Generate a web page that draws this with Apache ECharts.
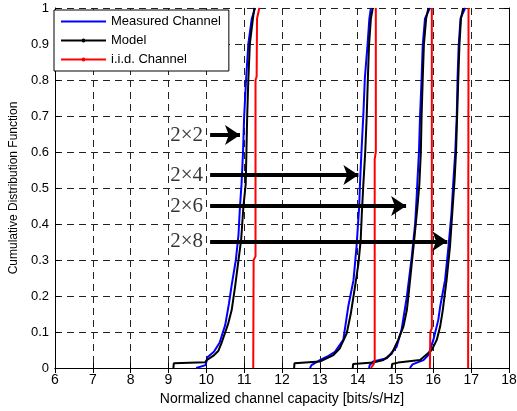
<!DOCTYPE html>
<html><head><meta charset="utf-8">
<script src="https://cdn.jsdelivr.net/npm/echarts@6/dist/echarts.min.js"></script>
<style>html,body{margin:0;padding:0;background:#fff}#c{width:517px;height:411px}</style>
</head><body><div id="c"></div>
<script>
// Measured channel (blue)
const measured2x2 = [[9.73,0],[9.98,0.008],[10.02,0.012],[10.03,0.03],[10.2,0.045],[10.35,0.07],[10.5,0.12],[10.6,0.18],[10.67,0.23],[10.78,0.3],[10.85,0.37],[10.89,0.45],[10.93,0.51],[10.97,0.6],[11.0,0.7],[11.05,0.8],[11.11,0.9],[11.2,0.97],[11.29,1]];
const measured2x4 = [[12.74,0],[12.78,0.008],[13.0,0.022],[13.2,0.032],[13.4,0.045],[13.62,0.078],[13.75,0.17],[13.89,0.244],[13.97,0.337],[14.04,0.448],[14.06,0.508],[14.1,0.6],[14.15,0.703],[14.19,0.805],[14.26,0.897],[14.31,0.971],[14.35,1]];
const measured2x6 = [[14.3,0],[14.32,0.008],[14.41,0.018],[14.77,0.027],[15.03,0.059],[15.16,0.106],[15.3,0.198],[15.43,0.309],[15.52,0.402],[15.56,0.476],[15.58,0.52],[15.62,0.6],[15.65,0.703],[15.69,0.805],[15.72,0.897],[15.78,0.971],[15.91,1]];
const measured2x8 = [[15.38,0],[15.45,0.01],[15.74,0.022],[15.87,0.036],[16.0,0.078],[16.13,0.133],[16.18,0.17],[16.31,0.244],[16.4,0.337],[16.48,0.43],[16.53,0.52],[16.58,0.6],[16.62,0.703],[16.64,0.805],[16.67,0.897],[16.72,0.971],[16.84,1]];
// Model (black)
const model2x2 = [[9.13,0],[9.14,0.013],[9.97,0.016],[10.01,0.022],[10.2,0.035],[10.32,0.048],[10.4,0.069],[10.58,0.124],[10.67,0.161],[10.76,0.226],[10.85,0.3],[10.92,0.356],[10.98,0.448],[11.04,0.51],[11.06,0.6],[11.08,0.7],[11.11,0.8],[11.15,0.9],[11.23,0.97],[11.27,1]];
const model2x4 = [[12.32,0],[12.33,0.013],[13.0,0.018],[13.36,0.036],[13.53,0.055],[13.71,0.096],[13.82,0.152],[13.93,0.226],[14.02,0.29],[14.08,0.356],[14.11,0.43],[14.15,0.51],[14.2,0.6],[14.24,0.703],[14.27,0.805],[14.3,0.897],[14.35,0.971],[14.4,1]];
const model2x6 = [[13.87,0],[13.88,0.011],[14.41,0.015],[14.68,0.022],[14.9,0.04],[15.07,0.078],[15.21,0.115],[15.3,0.161],[15.34,0.198],[15.43,0.29],[15.52,0.383],[15.58,0.448],[15.63,0.51],[15.67,0.6],[15.69,0.703],[15.72,0.805],[15.75,0.897],[15.81,0.971],[15.87,1]];
const model2x8 = [[14.9,0],[14.91,0.011],[15.07,0.015],[15.65,0.022],[15.96,0.05],[16.09,0.078],[16.18,0.115],[16.25,0.161],[16.35,0.244],[16.44,0.337],[16.5,0.43],[16.56,0.52],[16.6,0.6],[16.63,0.703],[16.66,0.805],[16.69,0.897],[16.73,0.971],[16.79,1]];
// i.i.d. channel (red)
const iid2x2 = [[11.24,0],[11.25,0.3],[11.3,0.31],[11.3,0.8],[11.33,0.81],[11.34,0.97],[11.4,1]];
const iid2x4 = [[14.35,0],[14.42,0.01],[14.45,0.02],[14.45,0.58],[14.48,0.6],[14.48,1]];
const iid2x6 = [[15.91,0],[15.92,0.1],[15.96,0.11],[15.96,1]];
const iid2x8 = [[16.92,0],[16.93,1]];
// Annotations
const annLabels = ['2\u00d72','2\u00d74','2\u00d76','2\u00d78'];
const annY = [0.647,0.536,0.45,0.352];
const annStartX = 10.1;
const annEndX = [10.89,14.02,15.28,16.37];

const FONT = 'Liberation Sans';
const chart = echarts.init(document.getElementById('c'), null, {renderer:'canvas'});
function curve(name, data, color){
  return {name, type:'line', data, symbol:'none', showSymbol:false,
    lineStyle:{color, width:2}, itemStyle:{color}, animation:false, silent:true};
}
const series = [];
[measured2x2,measured2x4,measured2x6,measured2x8].forEach(d=>series.push(curve('Measured Channel', d, '#0000ff')));
[model2x2,model2x4,model2x6,model2x8].forEach(d=>series.push(curve('Model', d, '#000000')));
[iid2x2,iid2x4,iid2x6,iid2x8].forEach(d=>series.push(curve('i.i.d. Channel', d, '#ff0000')));
series.push({
  name:'arrows', type:'line', data:[], animation:false, silent:true,
  itemStyle:{color:'#000'}, lineStyle:{color:'#000'},
  markLine:{
    silent:true, animation:false, symbol:['none','arrow'], symbolSize:15,
    itemStyle:{color:'#000'},
    lineStyle:{color:'#000', width:4, type:'solid'}, label:{show:false},
    data: annY.map((y,i)=>[{coord:[annStartX,y]},{coord:[annEndX[i],y]}])
  }
});
series.push({
  name:'labels', type:'scatter', symbolSize:0, animation:false, silent:true,
  data: annY.map((y,i)=>[annStartX,y]),
  label:{show:true, position:'left', distance:7, color:'#000', fontFamily:'Liberation Serif', fontSize:21,
    formatter:p=>annLabels[p.dataIndex]}
});

const lineIcon = 'path://M0,0h45v2h-45z';
const dotIcon = 'path://M0,1h45v2h-45zM22.5,0a2,2 0 1,1 0,4a2,2 0 1,1 0,-4z';
const gridStyle = {show:true, lineStyle:{color:'#222', width:1, type:[7,5]}};
chart.setOption({
  animation:false,
  backgroundColor:'#fff',
  grid:{left:55, right:8, top:8, bottom:43, containLabel:false, outerBoundsMode:'none'},
  legend:{
    data:[{name:'Measured Channel', icon:lineIcon},{name:'Model', icon:dotIcon},{name:'i.i.d. Channel', icon:dotIcon}],
    orient:'vertical', left:54, top:10,
    backgroundColor:'#fff', borderColor:'#000', borderWidth:1, borderRadius:0,
    padding:[5,8,5,7], itemWidth:45, itemHeight:14, itemGap:6, itemTextGap:4,
    textStyle:{fontFamily:FONT, fontSize:13, color:'#000'}
  },
  xAxis:[
    {type:'value', min:6, max:18, interval:1, position:'bottom',
     name:'Normalized channel capacity [bits/s/Hz]', nameLocation:'middle', nameGap:23,
     nameTextStyle:{fontFamily:FONT, fontSize:14, color:'#000'},
     axisLine:{show:true, lineStyle:{color:'#000', width:1}},
     axisTick:{show:true, inside:true, length:5, lineStyle:{color:'#000'}},
     axisLabel:{fontFamily:FONT, fontSize:14, color:'#000', margin:5},
     splitLine:gridStyle},
    {type:'value', min:6, max:18, interval:1, position:'top',
     axisLine:{show:true, lineStyle:{color:'#000', width:1}},
     axisTick:{show:true, inside:true, length:5, lineStyle:{color:'#000'}},
     axisLabel:{show:false}, splitLine:{show:false}}
  ],
  yAxis:[
    {type:'value', min:0, max:1, interval:0.1, position:'left',
     name:'Cumulative Distribution Function', nameLocation:'middle', nameGap:35,
     nameTextStyle:{fontFamily:FONT, fontSize:12, color:'#000'},
     axisLine:{show:true, lineStyle:{color:'#000', width:1}},
     axisTick:{show:true, inside:true, length:5, lineStyle:{color:'#000'}},
     axisLabel:{fontFamily:FONT, fontSize:13, color:'#000', margin:6},
     splitLine:gridStyle},
    {type:'value', min:0, max:1, interval:0.1, position:'right',
     axisLine:{show:true, lineStyle:{color:'#000', width:1}},
     axisTick:{show:true, inside:true, length:5, lineStyle:{color:'#000'}},
     axisLabel:{show:false}, splitLine:{show:false}}
  ],
  series
});
</script></body></html>
